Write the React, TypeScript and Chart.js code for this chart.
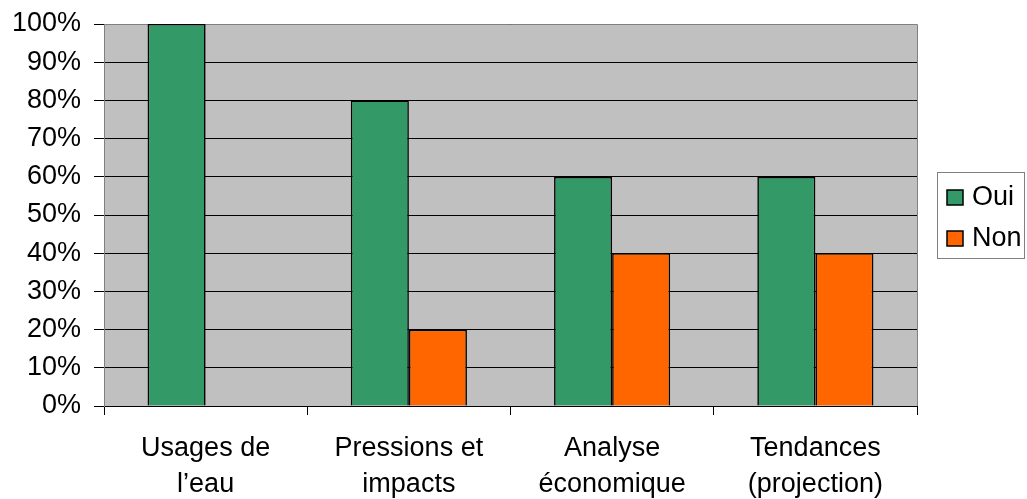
import React, { useEffect, useRef } from "react";
import { Chart, registerables } from "chart.js";

Chart.register(...registerables);

const categories: string[][] = [
  ["Usages de", "l’eau"],
  ["Pressions et", "impacts"],
  ["Analyse", "économique"],
  ["Tendances", "(projection)"],
];
const ouiValues = [100, 80, 60, 60];
const nonValues = [0, 20, 40, 40];
const seriesNames = ["Oui", "Non"];
const seriesColors = ["#339966", "#FF6600"];

const plotBackground = {
  id: "plotBackground",
  beforeDraw(chart: any) {
    const { ctx, chartArea: a } = chart;
    ctx.save();
    ctx.fillStyle = "#C0C0C0";
    ctx.fillRect(a.left, a.top, a.right - a.left, a.bottom - a.top);
    ctx.restore();
  },
  beforeDatasetsDraw(chart: any) {
    const { ctx, chartArea: a } = chart;
    ctx.save();
    ctx.strokeStyle = "#808080";
    ctx.lineWidth = 1;
    ctx.beginPath();
    ctx.moveTo(a.left, a.top + 0.5);
    ctx.lineTo(a.right + 0.5, a.top + 0.5);
    ctx.lineTo(a.right + 0.5, a.bottom);
    ctx.stroke();
    ctx.restore();
  },
};

const boxLegend = {
  id: "boxLegend",
  afterDraw(chart: any) {
    const { ctx } = chart;
    const x = 937.5, y = 172.5, w = 87, h = 86;
    ctx.save();
    ctx.fillStyle = "#FFFFFF";
    ctx.fillRect(x, y, w, h);
    ctx.strokeStyle = "#808080";
    ctx.lineWidth = 1;
    ctx.strokeRect(x, y, w, h);
    ctx.font = "27px 'Liberation Sans', Arial, sans-serif";
    ctx.textBaseline = "middle";
    chart.data.datasets.forEach((ds: any, i: number) => {
      const sy = 190 + i * 41;
      ctx.fillStyle = ds.backgroundColor;
      ctx.fillRect(947, sy, 16, 15);
      ctx.strokeStyle = "#000";
      ctx.lineWidth = 1.5;
      ctx.strokeRect(947, sy, 16, 15);
      ctx.fillStyle = "#000";
      ctx.fillText(ds.label, 972, sy + 8);
    });
    ctx.restore();
  },
};

export default function App() {
  const ref = useRef<HTMLCanvasElement>(null);
  useEffect(() => {
    document.body.style.margin = "0";
    if (!ref.current) return;
    Chart.defaults.font.family = "'Liberation Sans', Arial, sans-serif";
    Chart.defaults.color = "#000";
    const chart = new Chart(ref.current, {
      type: "bar",
      data: {
        labels: categories,
        datasets: [
          {
            label: seriesNames[0],
            data: ouiValues,
            backgroundColor: seriesColors[0],
            borderColor: "#000",
            borderWidth: 1.6,
            categoryPercentage: 0.5714,
            barPercentage: 1,
          },
          {
            label: seriesNames[1],
            data: nonValues,
            backgroundColor: seriesColors[1],
            borderColor: "#000",
            borderWidth: 1.6,
            categoryPercentage: 0.5714,
            barPercentage: 1,
          },
        ],
      },
      options: {
        responsive: false,
        animation: false,
        layout: { padding: { top: 24, right: 110, left: 0, bottom: 0 } },
        plugins: {
          legend: { display: false },
          tooltip: { enabled: false },
        },
        scales: {
          x: {
            afterFit(scale: any) {
              scale.height = 93;
              scale.paddingLeft = 0;
              scale.paddingRight = 0;
            },
            grid: {
              offset: true,
              drawOnChartArea: false,
              drawTicks: true,
              tickLength: 9,
              color: "#000",
            },
            border: { color: "#000", width: 1 },
            ticks: {
              font: { size: 27, lineHeight: 1.33 },
              padding: 16,
              maxRotation: 0,
              autoSkip: false,
            },
          },
          y: {
            min: 0,
            max: 100,
            afterFit(scale: any) {
              scale.width = 104;
              scale.paddingTop = 0;
              scale.paddingBottom = 0;
            },
            grid: {
              color: "#000",
              tickLength: 10,
              lineWidth: 1,
            },
            border: { color: "#808080", width: 1 },
            ticks: {
              stepSize: 10,
              font: { size: 27 },
              padding: 13,
              callback: (v: any) => v + "%",
            },
          },
        },
      },
      plugins: [plotBackground, boxLegend],
    });
    return () => chart.destroy();
  }, []);
  return <canvas ref={ref} width={1027} height={499} />;
}
